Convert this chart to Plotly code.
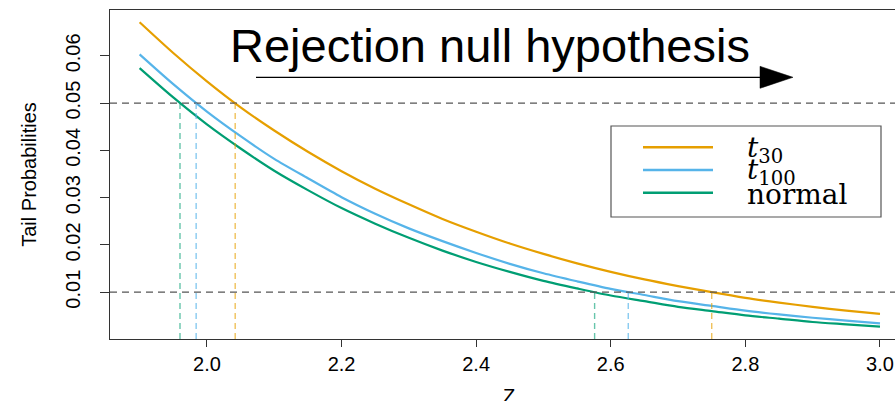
import plotly.graph_objects as go

# ---- data ----
z = [1.90, 1.95, 2.00, 2.05, 2.10, 2.15, 2.20, 2.25, 2.30, 2.35, 2.40, 2.45,
     2.50, 2.55, 2.60, 2.65, 2.70, 2.75, 2.80, 2.85, 2.90, 2.95, 3.00]
p_t30 = [0.0671, 0.0606, 0.0546, 0.0491, 0.0442, 0.0397, 0.0356, 0.0319, 0.0286,
         0.0255, 0.0228, 0.0203, 0.0181, 0.0161, 0.0143, 0.0127, 0.0113, 0.0100,
         0.0088, 0.0078, 0.0069, 0.0061, 0.0054]
p_t100 = [0.0603, 0.0540, 0.0482, 0.0430, 0.0382, 0.0341, 0.0301, 0.0266, 0.0235,
          0.0208, 0.0183, 0.0160, 0.0140, 0.0123, 0.0107, 0.0094, 0.0081, 0.0071,
          0.0061, 0.0053, 0.0046, 0.0040, 0.0034]
p_normal = [0.0574, 0.0512, 0.0455, 0.0404, 0.0357, 0.0316, 0.0278, 0.0245, 0.0215,
            0.0188, 0.0164, 0.0143, 0.0124, 0.0108, 0.0093, 0.0081, 0.0069, 0.0060,
            0.0051, 0.0044, 0.0037, 0.0032, 0.0027]
levels = [0.05, 0.01]
crit_05 = [2.042, 1.984, 1.960]   # t30, t100, normal
crit_01 = [2.750, 2.626, 2.576]
series_names = ["t30", "t100", "normal"]
legend_labels = ["<i>t</i><sub>30</sub>", "<i>t</i><sub>100</sub>", "normal"]
x_ticks = [2.0, 2.2, 2.4, 2.6, 2.8, 3.0]
y_ticks = [0.01, 0.02, 0.03, 0.04, 0.05, 0.06]

colors = ["#E69F00", "#56B4E9", "#009E73"]
light = ["rgba(230,159,0,0.65)", "rgba(86,180,233,0.7)", "rgba(0,158,115,0.6)"]

W, H = 895, 401
ML, MR, MT, MB = 110, 0, 10, 62
XR = [1.856, 3.0223]
YR = [0.0001, 0.0697]
PW, PH = W - ML - MR, H - MT - MB
FS = 20

def px_x(px):
    return (px - ML) / PW

def px_y(py):
    return (H - MB - py) / PH

def dx(px):
    return XR[0] + (px - ML) / PW * (XR[1] - XR[0])

def dy(py):
    return YR[0] + (H - MB - py) / PH * (YR[1] - YR[0])

fig = go.Figure()
for ys, name, c in zip([p_t30, p_t100, p_normal], series_names, colors):
    fig.add_trace(go.Scatter(x=z, y=ys, mode="lines", name=name,
                             line=dict(color=c, width=2.2, shape="spline", smoothing=0.8),
                             showlegend=False))

shapes = []
for lv in levels:
    shapes.append(dict(type="line", xref="paper", yref="y", x0=0, x1=1, y0=lv, y1=lv,
                       line=dict(color="#555555", width=1.3, dash="7px,5px")))
for crits, lv in [(crit_05, levels[0]), (crit_01, levels[1])]:
    for cx, lc in zip(crits, light):
        shapes.append(dict(type="line", xref="x", yref="y", x0=cx, x1=cx, y0=YR[0], y1=lv,
                           line=dict(color=lc, width=1.4, dash="6px,4px")))

ax0, ax1, ay = dx(256), dx(760), dy(77.3)
shapes.append(dict(type="line", xref="x", yref="y", x0=ax0, x1=ax1, y0=ay, y1=ay,
                   line=dict(color="black", width=1.3)))
shapes.append(dict(type="path", xref="x", yref="y", xsizemode="pixel", ysizemode="pixel",
                   xanchor=ax1, yanchor=ay, path="M0,-11 L33,0 L0,11 Z",
                   fillcolor="black", line=dict(color="black", width=0.5)))

shapes.append(dict(type="rect", xref="paper", yref="paper",
                   x0=px_x(611), x1=px_x(881), y0=px_y(217), y1=px_y(126),
                   line=dict(color="#555555", width=1.2), fillcolor="white", layer="above"))
row_y = [147.3, 170, 192.7]
for ry, c in zip(row_y, colors):
    shapes.append(dict(type="line", xref="paper", yref="paper",
                       x0=px_x(643), x1=px_x(713), y0=px_y(ry), y1=px_y(ry),
                       line=dict(color=c, width=2.6), layer="above"))

annotations = [
    dict(text="Rejection null hypothesis", xref="x", yref="y", x=dx(490), y=dy(45),
         showarrow=False, xanchor="center", yanchor="middle",
         font=dict(family="Liberation Sans, Arial, sans-serif", size=47, color="black")),
    dict(text="Z", xref="paper", yref="paper", x=px_x(509), y=px_y(396),
         showarrow=False, xanchor="center", yanchor="middle",
         font=dict(family="Liberation Sans, Arial, sans-serif", size=FS, color="black")),
]
text_y = [150, 171, 195]
for lab, ty in zip(legend_labels, text_y):
    annotations.append(dict(text=lab, xref="paper", yref="paper", x=px_x(745), y=px_y(ty),
                            showarrow=False, xanchor="left", yanchor="middle",
                            font=dict(family="DejaVu Serif, serif", size=28, color="black")))

fig.update_layout(
    width=W, height=H,
    margin=dict(l=ML, r=MR, t=MT, b=MB, pad=0),
    plot_bgcolor="white", paper_bgcolor="white",
    shapes=shapes, annotations=annotations,
    font=dict(family="Liberation Sans, Arial, sans-serif", size=FS, color="black"),
    xaxis=dict(range=XR, tickvals=x_ticks, tickformat=".1f", showgrid=False, zeroline=False,
               showline=True, linecolor="#333333", linewidth=1, mirror=True,
               ticks="outside", ticklen=7, tickcolor="#333333",
               tickfont=dict(size=FS)),
    yaxis=dict(range=YR, tickvals=y_ticks, tickformat=".2f", showgrid=False, zeroline=False,
               showline=True, linecolor="#333333", linewidth=1,
               ticks="outside", ticklen=9, tickcolor="#333333", tickangle=-90,
               ticklabelstandoff=12, tickfont=dict(size=FS),
               title=dict(text="Tail Probabilities", font=dict(size=FS), standoff=20)),
)

fig.write_html("out.html", config={"displayModeBar": False},
               post_script="document.body.style.margin='0px';document.body.style.padding='0px';")
